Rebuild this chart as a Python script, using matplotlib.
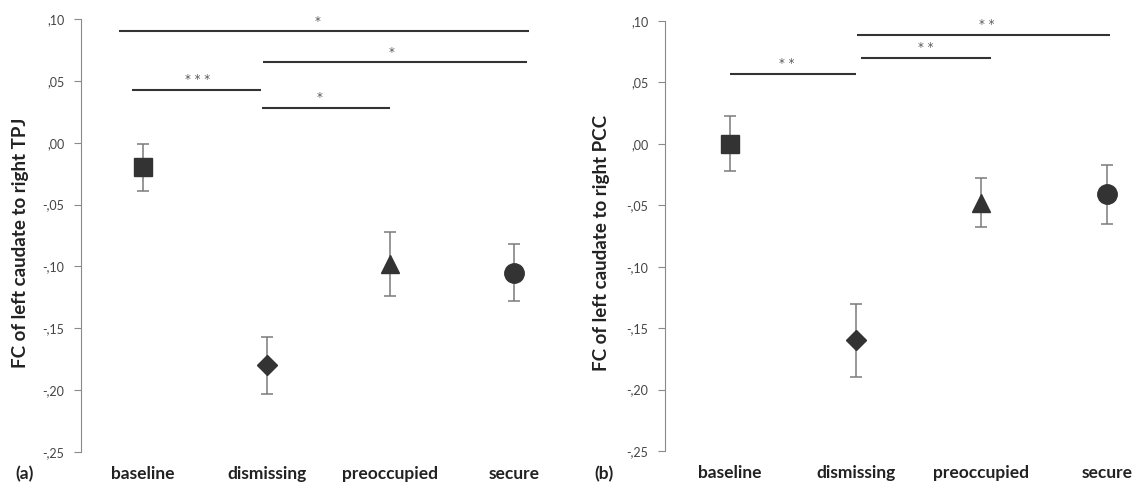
import numpy as np
import matplotlib
matplotlib.use('Agg')
import matplotlib.pyplot as plt

# group names and marker per group
groups = ['baseline', 'dismissing', 'preoccupied', 'secure']
markers = ['s', 'D', '^', 'o']
msizes = [13, 10.5, 13, 14]

# panel (a): FC left caudate -> right TPJ
tpj_mean = [-0.020, -0.180, -0.098, -0.105]
tpj_err = [0.019, 0.023, 0.026, 0.023]
# significance bars: (x start, x end, height, label, label x)
tpj_sig = [(-0.19, 3.12, 0.090, '*', 1.41),
           (0.97, 3.10, 0.065, '*', 2.01),
           (-0.09, 0.95, 0.043, '* * *', 0.44),
           (0.96, 2.00, 0.028, '*', 1.43)]

# panel (b): FC left caudate -> right PCC
pcc_mean = [0.000, -0.160, -0.048, -0.041]
pcc_err = [0.0225, 0.030, 0.020, 0.024]
pcc_sig = [(1.01, 3.02, 0.089, '* *', 2.04),
           (1.04, 2.08, 0.070, '* *', 1.56),
           (0.00, 1.00, 0.057, '* *', 0.45)]

yticks = [0.10, 0.05, 0.00, -0.05, -0.10, -0.15, -0.20, -0.25]
ytick_labels = [',10', ',05', ',00', '-,05', '-,10', '-,15', '-,20', '-,25']

plt.rcParams['font.family'] = ['Lato', 'DejaVu Sans']

W, H = 1138, 495
fig = plt.figure(figsize=(W / 100, H / 100), dpi=100)


def px_box(x0, x1, ytop, ybot):
    return [x0 / W, 1 - ybot / H, (x1 - x0) / W, (ybot - ytop) / H]


def draw_panel(ax, means, errs, sig, xlim):
    x = np.arange(len(groups))
    for i in range(len(groups)):
        ax.errorbar(x[i], means[i], yerr=errs[i], fmt='none', ecolor='#7a7a7a',
                    elinewidth=1.1, capsize=4, capthick=1.1, zorder=2)
        ax.plot(x[i], means[i], marker=markers[i], markersize=msizes[i],
                color='#333333', linestyle='none', zorder=3)
    for x0, x1, h, lab, lx in sig:
        ax.plot([x0, x1], [h, h], color='#333333', lw=1.5, solid_capstyle='butt')
        ax.text(lx, h + 0.003, lab, ha='center', va='bottom', fontsize=8.5,
                color='#555555', family='DejaVu Sans')
    ax.set_xlim(*xlim)
    ax.set_ylim(-0.25, 0.10)
    ax.set_yticks(yticks)
    ax.set_yticklabels(ytick_labels)
    ax.set_xticks(x)
    ax.set_xticklabels(groups, fontsize=12.5, fontweight='bold', color='#222222')
    for s in ['top', 'right', 'bottom']:
        ax.spines[s].set_visible(False)
    ax.spines['left'].set_color('#8a8a8a')
    ax.tick_params(axis='x', length=0, pad=10)
    ax.tick_params(axis='y', length=5, color='#8a8a8a', labelsize=9,
                   labelcolor='#444444', pad=7)
    ax.set_facecolor('none')


ax1 = fig.add_axes(px_box(81, 570, 19, 452))
draw_panel(ax1, tpj_mean, tpj_err, tpj_sig, (-0.5, 3.45))

ax2 = fig.add_axes(px_box(665, 1138, 21, 451))
draw_panel(ax2, pcc_mean, pcc_err, pcc_sig, (-0.517, 3.246))

fig.text(21 / W, 1 - 243 / H, 'FC of left caudate to right TPJ', rotation=90,
         ha='center', va='center', fontsize=13.5, fontweight='bold', color='#222222')
fig.text(601 / W, 1 - 243 / H, 'FC of left caudate to right PCC', rotation=90,
         ha='center', va='center', fontsize=13.5, fontweight='bold', color='#222222')
fig.text(15 / W, 1 - 474 / H, '(a)', ha='left', va='center', fontsize=12.5,
         fontweight='bold', color='#222222')
fig.text(594 / W, 1 - 474 / H, '(b)', ha='left', va='center', fontsize=12.5,
         fontweight='bold', color='#222222')

fig.savefig('out.png', dpi=100)
